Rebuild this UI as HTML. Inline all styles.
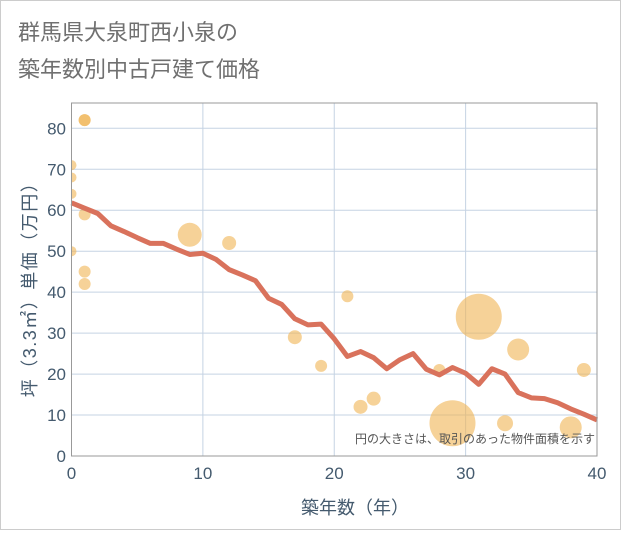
<!DOCTYPE html>
<html><head><meta charset="utf-8"><style>
body{margin:0;background:#fff;}
svg{font-family:"Liberation Sans","Noto Sans CJK JP",sans-serif;}
</style></head><body>
<svg width="621" height="530">
<defs><clipPath id="plotclip"><rect x="71.5" y="103" width="525.5" height="353"/></clipPath></defs>
<rect x="0.5" y="0.5" width="620" height="529" fill="#fff" stroke="#ccc"/>
<text x="18" y="40" font-size="22" fill="#707070">群馬県大泉町西小泉の</text>
<text x="18" y="77" font-size="22" fill="#707070">築年数別中古戸建て価格</text>
<g id="grid"></g>
<g id="bubbles" clip-path="url(#plotclip)"></g>
<g id="line"></g>
<rect x="71.5" y="103" width="525.5" height="353" fill="none" stroke="#999"/>
<g id="ticks"></g>
<text x="595" y="443" font-size="12" fill="#555" text-anchor="end">円の大きさは、取引のあった物件面積を示す</text>
<text x="355" y="514" font-size="18" fill="#445a6e" text-anchor="middle">築年数（年）</text>
<text transform="translate(36,285) rotate(-90)" font-size="18" letter-spacing="1.5" fill="#445a6e" text-anchor="middle">坪（3.3㎡）単価（万円）</text>
</svg>
<script>
const xTicks=[0,10,20,30,40];
const yTicks=[0,10,20,30,40,50,60,70,80];
const lineYears=[0,1,2,3,4,5,6,7,8,9,10,11,12,13,14,15,16,17,18,19,20,21,22,23,24,25,26,27,28,29,30,31,32,33,34,35,36,37,38,39,40];
const lineValues=[61.8,60.5,59.2,56.2,54.8,53.3,51.9,51.9,50.5,49.2,49.5,48,45.5,44.2,42.8,38.5,37,33.5,32,32.2,28.6,24.3,25.5,24,21.3,23.5,25,21.2,19.8,21.6,20.2,17.5,21.3,20,15.5,14.2,14,13,11.5,10.2,8.8];
const bubbleYears=[1,0,0,0,1,0,1,1,9,12,17,19,21,22,23,28,29,31,33,34,38,39,1];
const bubblePrices=[82,71,68,64,59,50,45,42,54,52,29,22,39,12,14,21,8,34,8,26,7,21,82];
const bubbleSizes=[6,5,5,5,6,5,6,6,12,7,7,6,6,7,7,6,23,23,8,11,11,7,6];
const X=v=>71.5+v*(597-71.5)/40;
const Y=v=>456-v*(456-128.3)/80;
const NS="http://www.w3.org/2000/svg";
const grid=document.getElementById('grid'),ticks=document.getElementById('ticks');
yTicks.forEach(t=>{
 const l=document.createElementNS(NS,'line');
 l.setAttribute('x1',71.5);l.setAttribute('x2',597);l.setAttribute('y1',Y(t));l.setAttribute('y2',Y(t));
 l.setAttribute('stroke','#c5d3e3');
 
 
 grid.appendChild(l);
 const tx=document.createElementNS(NS,'text');
 tx.setAttribute('x',66);tx.setAttribute('y',Y(t)+6);tx.setAttribute('text-anchor','end');
 tx.setAttribute('font-size','17');tx.setAttribute('fill','#445a6e');tx.textContent=t;
 
 
 ticks.appendChild(tx);
});
xTicks.forEach(t=>{
 const l=document.createElementNS(NS,'line');
 l.setAttribute('y1',103);l.setAttribute('y2',456);l.setAttribute('x1',X(t));l.setAttribute('x2',X(t));
 l.setAttribute('stroke','#c5d3e3');
 
 
 grid.appendChild(l);
 const tx=document.createElementNS(NS,'text');
 tx.setAttribute('x',X(t));tx.setAttribute('y',479);tx.setAttribute('text-anchor','middle');
 tx.setAttribute('font-size','17');tx.setAttribute('fill','#445a6e');tx.textContent=t;
 
 
 ticks.appendChild(tx);
});
const bg=document.getElementById('bubbles');
bubbleYears.forEach((yr,i)=>{
 const c=document.createElementNS(NS,'circle');
 c.setAttribute('cx',X(yr));c.setAttribute('cy',Y(bubblePrices[i]));c.setAttribute('r',bubbleSizes[i]);
 c.setAttribute('fill','#f0b453');c.setAttribute('fill-opacity','0.6');
 
 
 bg.appendChild(c);
});
const p=document.createElementNS(NS,'polyline');
p.setAttribute('points',lineYears.map((yr,i)=>X(yr)+','+Y(lineValues[i])).join(' '));
p.setAttribute('fill','none');p.setAttribute('stroke','#d9725c');p.setAttribute('stroke-width','5');p.setAttribute('stroke-linejoin','round');


document.getElementById('line').appendChild(p);
</script>
</body></html>
